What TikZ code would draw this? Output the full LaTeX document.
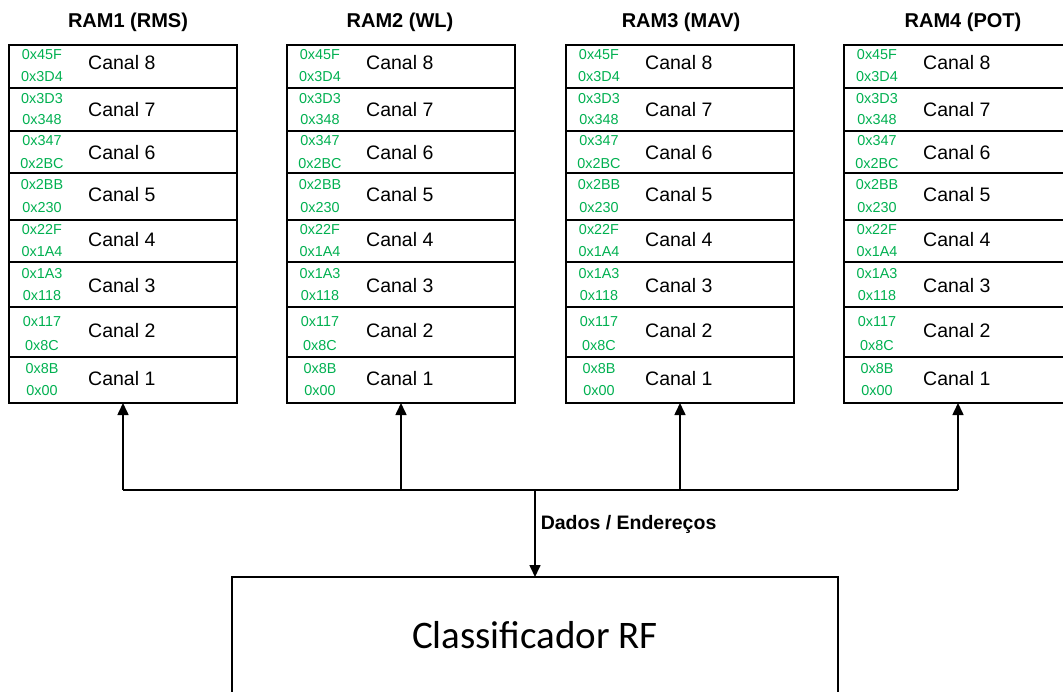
\documentclass[tikz,border=0pt]{standalone}
\usepackage{fontspec}
\setmainfont{Liberation Sans}
\newfontfamily\clsfont{Carlito}
\usetikzlibrary{arrows.meta}
\definecolor{addrgreen}{RGB}{0,176,80}
\begin{document}
\begin{tikzpicture}[x=1pt,y=-1pt,
  ram/.style={draw, line width=2.4pt, minimum width=228pt, minimum height=358pt, inner sep=0pt, outer sep=0pt, anchor=north west},
  sepline/.style={line width=2pt},
  title/.style={font=\fontsize{20}{22}\selectfont\bfseries, inner sep=0pt},
  canal/.style={font=\fontsize{19.5}{21}\selectfont, inner sep=0pt, anchor=west},
  addr/.style={font=\fontsize{14.4}{15}\selectfont, text=addrgreen, inner sep=0pt},
  bus/.style={line width=1.6pt},
  arr/.style={line width=1.6pt, -{Triangle[width=11pt,length=12pt]}},
  clsbox/.style={draw, line width=2.4pt, minimum width=606pt, minimum height=116pt, inner sep=0pt, outer sep=0pt, anchor=north west, font=\clsfont\fontsize{39}{42}\selectfont}
]
\useasboundingbox (0,0) rectangle (1063,691);
\clip (0,0) rectangle (1063,691);

% four memory blocks with their address map
\foreach \i/\x/\t/\tx in {1/9/{RAM1 (RMS)}/128, 2/287/{RAM2 (WL)}/400, 3/566/{RAM3 (MAV)}/681, 4/844/{RAM4 (POT)}/963} {
  \node[ram] (ram\i) at (\x,45) {};
  \node[title] (title\i) at (\tx,22) {\t};
  \foreach \s in {88,131,173,220,262,307,357}
    \draw[sepline] (\x,\s) -- ++(228,0);
  \foreach \n/\cy/\hy/\hi/\ly/\lo in {8/63/55/0x45F/77/0x3D4, 7/110/99/0x3D3/120/0x348, 6/153/141/0x347/164/0x2BC, 5/195/185/0x2BB/208/0x230, 4/240/230/0x22F/252/0x1A4, 3/286/274/0x1A3/296/0x118, 2/331/322/0x117/346/0x8C, 1/379/369/0x8B/391/0x00} {
    \node[canal] (canal\i-\n) at (\x+79,\cy) {Canal \n};
    \node[addr] (hi\i-\n) at (\x+33,\hy) {\hi};
    \node[addr] (lo\i-\n) at (\x+33,\ly) {\lo};
  }
  % bus tap below each block
  \coordinate (b\i) at (\x+114,490);
}

% classifier
\node[clsbox] (cls) at (232,577) {Classificador RF};

% shared data / address bus
\coordinate (bm) at (535,490);
\draw[bus] (b1) -- (b4);
\foreach \i in {1,2,3,4}
  \draw[arr] (b\i) -- (ram\i.south);
\draw[arr] (bm) -- (bm |- cls.north)
  node[pos=0.4, anchor=west, xshift=5pt, font=\fontsize{19.5}{21}\selectfont\bfseries, inner sep=0pt] (buslabel) {Dados / Endereços};
\end{tikzpicture}
\end{document}
